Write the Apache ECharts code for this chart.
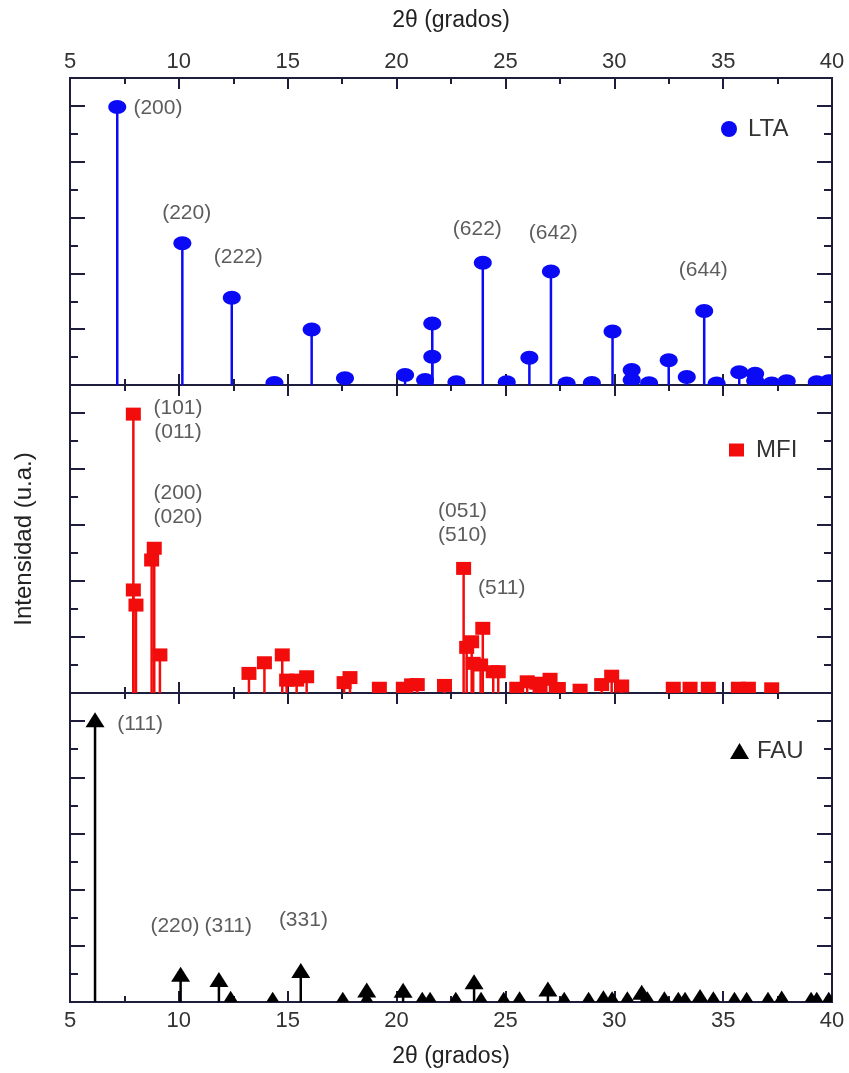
<!DOCTYPE html>
<html>
<head>
<meta charset="utf-8">
<script src="https://cdn.jsdelivr.net/npm/echarts@6/dist/echarts.min.js"></script>
<style>
html,body{margin:0;padding:0;background:#fff;}
#chart{width:849px;height:1073px;}
</style>
</head>
<body>
<div id="chart"></div>
<script>
// ---------- data ----------
const xTicks = [5, 10, 15, 20, 25, 30, 35, 40];

const ltaAngle = [7.17, 10.16, 12.43, 14.39, 16.10, 17.63, 20.39, 21.31, 21.64, 21.64, 22.75, 23.96, 25.06, 26.10, 27.09, 27.81, 28.97, 29.92, 30.80, 30.80, 31.60, 32.50, 33.33, 34.13, 34.70, 35.74, 36.47, 36.47, 37.23, 37.92, 39.30, 39.85];
const ltaInt   = [9.96, 5.08, 3.13, 0.07, 1.99, 0.24, 0.36, 0.18, 2.20, 1.01, 0.10, 4.38, 0.10, 0.98, 4.07, 0.05, 0.07, 1.92, 0.54, 0.18, 0.06, 0.89, 0.29, 2.65, 0.05, 0.46, 0.40, 0.15, 0.05, 0.13, 0.10, 0.13];

const mfiAngle = [7.91, 7.91, 8.03, 8.75, 8.87, 9.13, 13.22, 13.93, 14.75, 14.95, 15.41, 15.87, 17.59, 17.86, 19.21, 20.31, 20.69, 20.95, 22.20, 23.08, 23.22, 23.45, 23.52, 23.86, 23.96, 24.44, 24.67, 25.52, 26.00, 26.44, 26.59, 27.05, 27.43, 28.43, 29.42, 29.88, 30.34, 32.71, 33.48, 34.32, 35.70, 36.16, 37.23];
const mfiInt   = [9.96, 3.68, 3.14, 4.75, 5.17, 1.36, 0.70, 1.08, 1.36, 0.46, 0.46, 0.58, 0.37, 0.55, 0.17, 0.17, 0.29, 0.30, 0.27, 4.45, 1.63, 1.83, 1.06, 1.00, 2.31, 0.76, 0.76, 0.17, 0.40, 0.35, 0.17, 0.49, 0.16, 0.10, 0.30, 0.60, 0.25, 0.17, 0.17, 0.17, 0.17, 0.17, 0.15];

const fauAngle = [6.15, 10.08, 11.84, 12.38, 14.31, 15.60, 17.53, 18.63, 18.63, 20.30, 21.18, 21.54, 22.72, 23.56, 23.88, 24.92, 25.65, 26.95, 27.70, 28.82, 29.50, 29.90, 30.60, 31.26, 31.52, 32.30, 32.94, 33.25, 33.94, 34.55, 35.52, 36.08, 37.06, 37.69, 39.04, 39.30, 39.85];
const fauInt   = [10.05, 0.99, 0.80, 0.13, 0.10, 1.12, 0.10, 0.43, 0.10, 0.42, 0.10, 0.10, 0.10, 0.72, 0.10, 0.10, 0.12, 0.46, 0.10, 0.10, 0.15, 0.12, 0.12, 0.35, 0.12, 0.12, 0.10, 0.10, 0.20, 0.12, 0.10, 0.10, 0.10, 0.14, 0.10, 0.10, 0.10];

// Miller index labels: [angle, intensity, text]
const ltaLabels = [[9.04, 9.93, '(200)'], [10.36, 6.17, '(220)'], [12.73, 4.58, '(222)'], [23.71, 5.60, '(622)'], [27.20, 5.44, '(642)'], [34.09, 4.13, '(644)']];
const mfiLabels = [[9.96, 9.75, '(101)\n(011)'], [9.96, 6.71, '(200)\n(020)'], [23.03, 6.06, '(051)\n(510)'], [24.83, 3.74, '(511)']];
const fauLabels = [[8.22, 9.89, '(111)'], [9.82, 2.71, '(220)'], [12.27, 2.69, '(311)'], [15.72, 2.90, '(331)']];

const seriesNames = ['LTA', 'MFI', 'FAU'];
const xTitle = '2\u03b8 (grados)';
const yTitle = 'Intensidad (u.a.)';

// ---------- styling ----------
const FONT = 'Liberation Sans, Arial, sans-serif';
const AXIS_COLOR = '#1e1e3c';
const TEXT_COLOR = '#333333';
const colors = ['#0a0af5', '#f20c0c', '#000000'];
const symbols = ['circle', 'rect', 'triangle'];
const symbolSizes = [[18, 14], [15, 13], [19, 15]];

const zip = (a, b) => a.map((v, i) => [v, b[i]]);
const panels = [
  {angle: ltaAngle, inten: ltaInt, labels: ltaLabels},
  {angle: mfiAngle, inten: mfiInt, labels: mfiLabels},
  {angle: fauAngle, inten: fauInt, labels: fauLabels}
];

const grids = [
  {left: 70, right: 17, top: 78, height: 307},
  {left: 70, right: 17, top: 385, height: 308},
  {left: 70, right: 17, top: 693, height: 309}
];

function markerShape(kind, cx, cy, w, h, color) {
  if (kind === 'circle') {
    return {type: 'ellipse', shape: {cx: cx, cy: cy, rx: w / 2, ry: h / 2}, style: {fill: color}};
  }
  if (kind === 'rect') {
    return {type: 'rect', shape: {x: cx - w / 2, y: cy - h / 2, width: w, height: h}, style: {fill: color}};
  }
  return {type: 'polygon', shape: {points: [[cx, cy - h / 2], [cx + w / 2, cy + h / 2], [cx - w / 2, cy + h / 2]]}, style: {fill: color}};
}

const xAxes = [];
const yAxes = [];
const series = [];
const legends = [];
const legendPos = [
  {left: 721, top: 117},
  {left: 729, top: 438},
  {left: 730, top: 739}
];
const legendTextPad = [6, 7, 3];

grids.forEach((g, gi) => {
  ['bottom', 'top'].forEach(pos => {
    const showLabel = (gi === 0 && pos === 'top') || (gi === 2 && pos === 'bottom');
    const ax = {
      type: 'value', gridIndex: gi, position: pos, min: xTicks[0], max: xTicks[xTicks.length - 1], interval: 5,
      axisLine: {show: true, onZero: false, lineStyle: {color: AXIS_COLOR, width: 2}},
      axisTick: {show: true, inside: true, length: 11, lineStyle: {color: AXIS_COLOR, width: 2}},
      minorTick: {show: true, splitNumber: 2, length: 6, lineStyle: {color: AXIS_COLOR, width: 2}},
      splitLine: {show: false},
      axisLabel: {show: showLabel, fontSize: 22, color: TEXT_COLOR, fontFamily: FONT, margin: pos === 'top' ? 5 : 8}
    };
    if (showLabel) {
      ax.name = xTitle;
      ax.nameLocation = 'middle';
      ax.nameGap = pos === 'top' ? 46 : 43;
      ax.nameTextStyle = {fontSize: 23, color: '#222', fontFamily: FONT};
    }
    xAxes.push(ax);
  });
  [['left', 2, 15], ['left', 1, 8], ['right', 2, 15], ['right', 1, 8]].forEach(([pos, iv, len], k) => {
    const ay = {
      type: 'value', gridIndex: gi, position: pos, min: 0, max: 11, interval: iv,
      axisLine: {show: true, onZero: false, lineStyle: {color: AXIS_COLOR, width: 2}},
      axisTick: {show: true, inside: true, length: len, lineStyle: {color: AXIS_COLOR, width: 2}},
      splitLine: {show: false},
      axisLabel: {show: false}
    };
    if (gi === 1 && k === 0) {
      ay.name = yTitle;
      ay.nameLocation = 'middle';
      ay.nameGap = 34;
      ay.nameRotate = 90;
      ay.nameTextStyle = {fontSize: 24, color: '#222', fontFamily: FONT};
    }
    yAxes.push(ay);
  });

  const p = panels[gi];
  const data = zip(p.angle, p.inten);
  const color = colors[gi];
  const kind = symbols[gi];
  const sz = symbolSizes[gi];
  const xi = gi * 2, yi = gi * 4;

  series.push({
    type: 'custom', name: seriesNames[gi], xAxisIndex: xi, yAxisIndex: yi,
    data: data, z: 2, clip: true, silent: true,
    itemStyle: {color: color},
    renderItem: (params, api) => {
      const x = api.value(0), y = api.value(1);
      const a = api.coord([x, 0]);
      const b = api.coord([x, y]);
      return {
        type: 'group',
        children: [
          {type: 'line', shape: {x1: a[0], y1: a[1], x2: b[0], y2: b[1]}, style: {stroke: color, lineWidth: 2.5}},
          markerShape(kind, b[0], b[1], sz[0], sz[1], color)
        ]
      };
    }
  });
  series.push({
    type: 'scatter', name: seriesNames[gi] + ' labels', xAxisIndex: xi, yAxisIndex: yi,
    data: p.labels, symbolSize: 1, itemStyle: {color: 'transparent'}, z: 4, silent: true, clip: false,
    label: {show: true, position: 'inside', formatter: q => q.data[2], fontSize: 21, lineHeight: 24,
            color: TEXT_COLOR, fontFamily: FONT}
  });

  legends.push({
    data: [{name: seriesNames[gi], icon: kind, itemStyle: {color: color}}],
    left: legendPos[gi].left, top: legendPos[gi].top, padding: 0,
    itemWidth: kind === 'circle' ? 16 : (kind === 'rect' ? 15 : 19),
    itemHeight: kind === 'circle' ? 16 : (kind === 'rect' ? 13 : 16),
    selectedMode: false,
    textStyle: {fontSize: 24, color: TEXT_COLOR, fontFamily: FONT, padding: [0, 0, 0, legendTextPad[gi]]}
  });
});

const chart = echarts.init(document.getElementById('chart'), null, {renderer: 'canvas'});
chart.setOption({
  animation: false,
  backgroundColor: '#ffffff',
  grid: grids,
  xAxis: xAxes,
  yAxis: yAxes,
  legend: legends,
  series: series
});
</script>
</body>
</html>
